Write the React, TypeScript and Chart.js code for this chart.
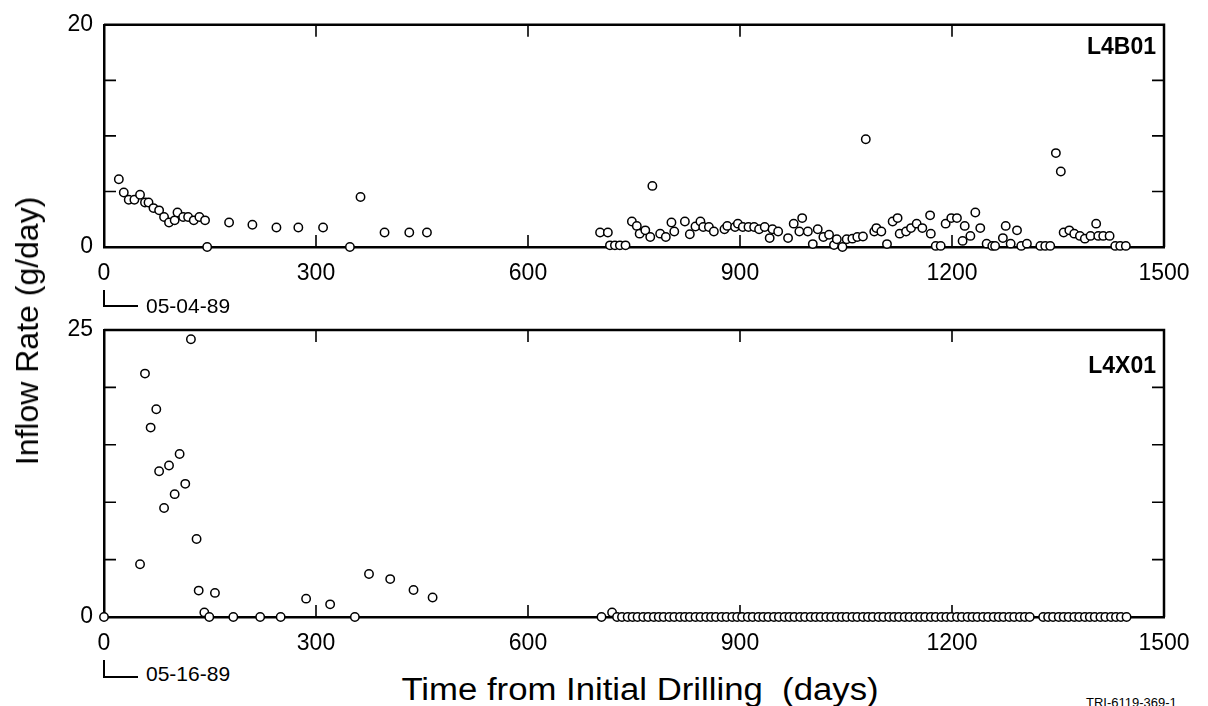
import React, { useEffect, useRef } from "react";
import { Chart, registerables } from "chart.js";

Chart.register(...registerables);

// ---- Data (L4B01, top panel) ----
const l4b01Days = [
  21, 28, 35, 43, 51, 58, 63, 70, 78, 85, 92, 100, 104, 112, 119, 127, 135, 143, 146,
  177, 210, 244, 275, 310, 348, 363, 397, 432, 457,
  702, 713, 716, 723, 730, 738, 747, 754, 758, 766, 773, 776, 787, 795, 803, 807,
  822, 829, 837, 844, 848, 856, 863, 878, 882, 893, 897, 904, 912, 920, 927, 935,
  942, 946, 954, 968, 976, 984, 988, 996, 1003, 1010, 1018, 1026, 1033, 1037, 1045,
  1051, 1059, 1066, 1074, 1078, 1090, 1093, 1100, 1108, 1116, 1123, 1126, 1135, 1142,
  1150, 1158, 1169, 1170, 1177, 1184, 1191, 1199, 1207, 1215, 1218, 1226, 1233, 1240,
  1249, 1257, 1261, 1272, 1276, 1283, 1292, 1298, 1306, 1325, 1332, 1339, 1347, 1354,
  1358, 1366, 1373, 1381, 1388, 1396, 1404, 1407, 1414, 1423, 1431, 1438, 1446,
];
const l4b01Rates = [
  6.1, 4.9, 4.25, 4.25, 4.7, 4.0, 4.0, 3.5, 3.3, 2.7, 2.2, 2.4, 3.1, 2.7, 2.7, 2.4, 2.7, 2.4, 0,
  2.2, 2.0, 1.75, 1.75, 1.75, 0, 4.5, 1.3, 1.3, 1.3,
  1.3, 1.3, 0.15, 0.15, 0.15, 0.15, 2.3, 1.9, 1.2, 1.5, 0.9, 5.5, 1.2, 0.9, 2.2, 1.4,
  2.3, 1.15, 1.85, 2.3, 1.8, 1.8, 1.4, 1.6, 1.9, 1.8, 2.1, 1.8, 1.8, 1.8, 1.6, 1.8,
  0.8, 1.6, 1.4, 0.8, 2.1, 1.4, 2.6, 1.4, 0.26, 1.6, 0.9, 1.1, 0.17, 0.7, 0,
  0.7, 0.75, 0.9, 0.95, 9.7, 1.4, 1.7, 1.4, 0.26, 2.3, 2.6, 1.2, 1.4, 1.7,
  2.1, 1.7, 2.85, 1.2, 0.1, 0.1, 2.1, 2.6, 2.6, 0.55, 1.9, 1.0, 3.1, 1.7,
  0.3, 0.1, 0.1, 0.8, 1.9, 0.3, 1.5, 0.1, 0.3, 0.1, 0.1, 0.1, 8.45, 6.8,
  1.3, 1.5, 1.2, 1.0, 0.75, 1.0, 2.1, 1.0, 1.0, 1.0, 0.1, 0.1, 0.1,
];

// ---- Data (L4X01, bottom panel) ----
const l4x01Days = [
  0, 51, 58, 66, 74, 78, 85, 92, 100, 107, 115, 123, 131, 134, 142, 149, 157,
  183, 221, 250, 286, 320, 355, 375, 405, 438, 465, 704, 719,
  726, 733, 741, 748, 755, 763, 770, 778, 785, 792, 800, 807, 815, 822, 829, 837,
  844, 852, 859, 866, 874, 881, 889, 896, 903, 911, 918, 926, 933, 940, 948, 955,
  963, 970, 977, 985, 992, 1000, 1007, 1014, 1022, 1029, 1037, 1044, 1051, 1059,
  1066, 1074, 1081, 1088, 1096, 1103, 1111, 1118, 1125, 1133, 1140, 1148, 1155,
  1162, 1170, 1177, 1185, 1192, 1199, 1207, 1214, 1222, 1229, 1236, 1244, 1251,
  1259, 1266, 1273, 1281, 1288, 1296, 1303, 1310, 1329, 1336, 1343, 1351, 1358,
  1365, 1373, 1380, 1388, 1395, 1402, 1410, 1417, 1425, 1432, 1439, 1447,
];
const l4x01Rates = [
  0, 4.6, 21.2, 16.5, 18.1, 12.7, 9.5, 13.2, 10.7, 14.2, 11.6, 24.2, 6.8, 2.3, 0.4, 0, 2.1,
  0, 0, 0, 1.6, 1.1, 0, 3.75, 3.3, 2.35, 1.7, 0, 0.4,
  0, 0, 0, 0, 0, 0, 0, 0, 0, 0, 0, 0, 0, 0, 0, 0,
  0, 0, 0, 0, 0, 0, 0, 0, 0, 0, 0, 0, 0, 0, 0, 0,
  0, 0, 0, 0, 0, 0, 0, 0, 0, 0, 0, 0, 0, 0,
  0, 0, 0, 0, 0, 0, 0, 0, 0, 0, 0, 0, 0,
  0, 0, 0, 0, 0, 0, 0, 0, 0, 0, 0, 0, 0,
  0, 0, 0, 0, 0, 0, 0, 0, 0, 0, 0, 0, 0,
  0, 0, 0, 0, 0, 0, 0, 0, 0, 0, 0, 0,
];

// ---- Axes / labels ----
const xMin = 0;
const xMax = 1500;
const xStep = 300;
const topYMax = 20;
const topYStep = 5;
const topYLabeled = [0, 20];
const bottomYMax = 25;
const bottomYStep = 5;
const bottomYLabeled = [0, 25];
const topPanelLabel = "L4B01";
const bottomPanelLabel = "L4X01";
const topStartDate = "05-04-89";
const bottomStartDate = "05-16-89";
const yTitle = "Inflow Rate (g/day)";
const xTitle = "Time from Initial Drilling  (days)";
const figureId = "TRI-6119-369-1";

const FONT = "'Liberation Sans', Arial, Helvetica, sans-serif";

const frameTicks = {
  id: "frameTicks",
  beforeDatasetsDraw(chart: any) {
    const { ctx, chartArea } = chart;
    const { left, right, top, bottom } = chartArea;
    const L = 12;
    ctx.save();
    ctx.strokeStyle = "#000";
    ctx.lineWidth = 2.5;
    ctx.beginPath();
    ctx.moveTo(left, top);
    ctx.lineTo(right, top);
    ctx.lineTo(right, bottom);
    ctx.stroke();
    ctx.lineWidth = 1.6;
    const xs = chart.scales.x;
    const ys = chart.scales.y;
    ctx.beginPath();
    xs.ticks.forEach((t: any) => {
      if (t.value <= xs.min || t.value >= xs.max) return;
      const px = xs.getPixelForValue(t.value);
      ctx.moveTo(px, bottom);
      ctx.lineTo(px, bottom - L);
      ctx.moveTo(px, top);
      ctx.lineTo(px, top + L);
    });
    ys.ticks.forEach((t: any) => {
      if (t.value <= ys.min || t.value >= ys.max) return;
      const py = ys.getPixelForValue(t.value);
      ctx.moveTo(left, py);
      ctx.lineTo(left + L, py);
      ctx.moveTo(right, py);
      ctx.lineTo(right - L, py);
    });
    ctx.stroke();
    ctx.restore();
  },
};

function makeConfig(days: number[], rates: number[], yMax: number, yStep: number, labeled: number[], padTop: number) {
  const pts = days.map((d, i) => ({ x: d, y: rates[i] }));
  return {
    type: "scatter" as const,
    data: {
      datasets: [
        {
          data: pts,
          pointStyle: "circle",
          pointRadius: 4.2,
          pointBorderWidth: 1.5,
          borderColor: "#000",
          backgroundColor: "#fff",
          showLine: false,
          clip: false as any,
        },
      ],
    },
    options: {
      animation: false as const,
      responsive: false,
      devicePixelRatio: 1,
      layout: { padding: { top: padTop, right: 44, left: 0, bottom: 0 } },
      plugins: { legend: { display: false }, tooltip: { enabled: false } },
      scales: {
        x: {
          type: "linear" as const,
          min: xMin,
          max: xMax,
          afterFit: (s: any) => {
            s.height = 43;
          },
          ticks: {
            stepSize: xStep,
            color: "#000",
            padding: 13,
            maxRotation: 0,
            autoSkip: false,
            font: { family: FONT, size: 23 },
            callback: (v: any) => String(v),
          },
          grid: { display: true, drawOnChartArea: false, drawTicks: false, color: "#000" },
          border: { display: true, color: "#000", width: 2.5 },
        },
        y: {
          type: "linear" as const,
          min: 0,
          max: yMax,
          afterFit: (s: any) => {
            s.width = 104;
          },
          ticks: {
            stepSize: yStep,
            color: "#000",
            padding: 11,
            autoSkip: false,
            font: { family: FONT, size: 23 },
            callback: (v: any) => (labeled.includes(Number(v)) ? String(v) : ""),
          },
          grid: { display: true, drawOnChartArea: false, drawTicks: false, color: "#000" },
          border: { display: true, color: "#000", width: 2.5 },
        },
      },
    },
    plugins: [frameTicks],
  };
}

const abs = (s: React.CSSProperties): React.CSSProperties => ({ position: "absolute", ...s });

export default function App() {
  const topRef = useRef<HTMLCanvasElement>(null);
  const botRef = useRef<HTMLCanvasElement>(null);

  useEffect(() => {
    const c1 = new Chart(topRef.current as HTMLCanvasElement, makeConfig(l4b01Days, l4b01Rates, topYMax, topYStep, topYLabeled, 15) as any);
    const c2 = new Chart(botRef.current as HTMLCanvasElement, makeConfig(l4x01Days, l4x01Rates, bottomYMax, bottomYStep, bottomYLabeled, 40) as any);
    return () => {
      c1.destroy();
      c2.destroy();
    };
  }, []);

  const txt: React.CSSProperties = { fontFamily: FONT, color: "#000", whiteSpace: "nowrap", lineHeight: 1 };

  return (
    <div style={abs({ left: 0, top: 0, width: 1208, height: 706, overflow: "hidden", background: "#fff" })}>
      <canvas ref={topRef} width={1208} height={290} style={abs({ left: 0, top: 0, width: 1208, height: 290 })} />
      <canvas ref={botRef} width={1208} height={370} style={abs({ left: 0, top: 290, width: 1208, height: 370 })} />

      {/* panel labels */}
      <div style={abs({ ...txt, right: 1208 - 1156, top: 35, fontSize: 23, fontWeight: "bold" })}>{topPanelLabel}</div>
      <div style={abs({ ...txt, right: 1208 - 1156, top: 354, fontSize: 23, fontWeight: "bold" })}>{bottomPanelLabel}</div>

      {/* start-date markers */}
      <div style={abs({ left: 103, top: 290, width: 33, height: 15, borderLeft: "2px solid #000", borderBottom: "2px solid #000" })} />
      <div style={abs({ ...txt, left: 146, top: 295, fontSize: 21 })}>{topStartDate}</div>
      <div style={abs({ left: 103, top: 660, width: 33, height: 16, borderLeft: "2px solid #000", borderBottom: "2px solid #000" })} />
      <div style={abs({ ...txt, left: 146, top: 663, fontSize: 21 })}>{bottomStartDate}</div>

      {/* axis titles */}
      <div
        style={abs({
          ...txt,
          left: 27,
          top: 331,
          fontSize: 32,
          transform: "translate(-50%, -50%) rotate(-90deg)",
        })}
      >
        {yTitle}
      </div>
      <div
        style={abs({
          ...txt,
          left: 640,
          top: 674,
          fontSize: 31,
          transform: "translateX(-50%) scaleX(1.12)",
          whiteSpace: "pre",
        })}
      >
        {xTitle}
      </div>

      <div style={abs({ ...txt, left: 1086, top: 696, fontSize: 13 })}>{figureId}</div>
    </div>
  );
}
